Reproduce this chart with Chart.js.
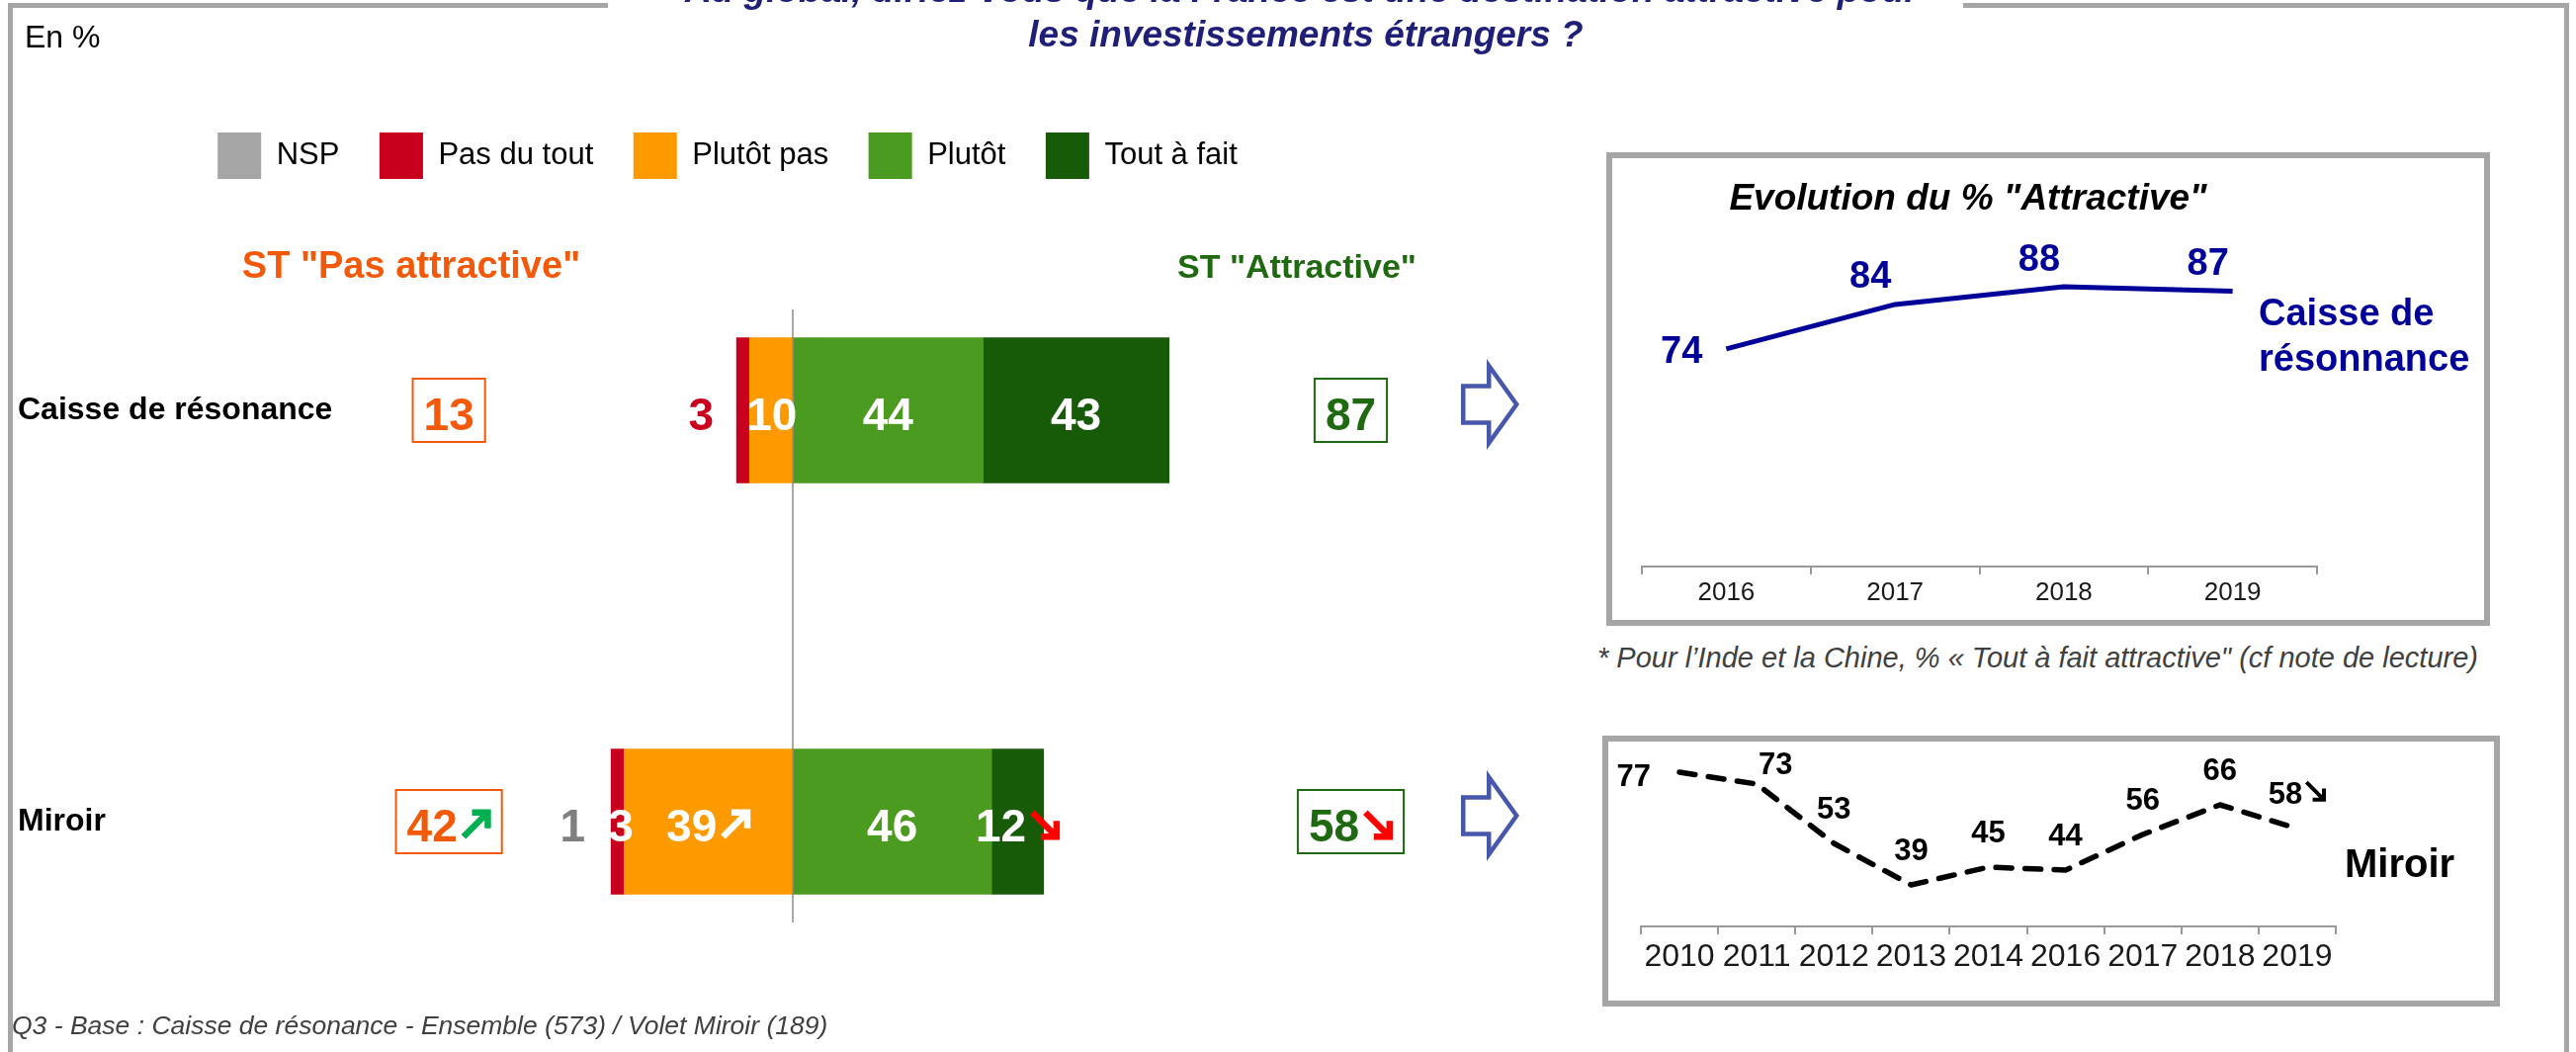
<!DOCTYPE html>
<html lang="fr">
<head>
<meta charset="utf-8">
<title>La France, destination attractive pour les investissements étrangers</title>
<script src="https://cdn.jsdelivr.net/npm/chart.js@4.4.1/dist/chart.umd.min.js"></script>
<style>
  html, body { margin: 0; padding: 0; background: #fff; }
  #page { position: relative; width: 2606px; height: 1064px; overflow: hidden;
          font-family: "Liberation Sans", Arial, sans-serif; color: #000; background: #fff; }
  #page canvas { position: absolute; }
  .abs { position: absolute; white-space: nowrap; }
  .mid { transform: translateX(-50%); }
  .rule { position: absolute; background: #a6a6a6; }
  .frame { position: absolute; box-sizing: border-box; border: 6px solid #a6a6a6; }
  .title { font-size: 37px; line-height: 37px; font-weight: bold; font-style: italic; color: #1f1f78; }
  .head { font-weight: bold; }
  .note { font-style: italic; color: #404040; }
</style>
</head>
<body>
<div id="page">
  <canvas id="bars" width="1560" height="1064" style="left:0;top:0;width:1560px;height:1064px"></canvas>

  <div class="frame" style="left:1625px;top:154px;width:894px;height:479px"></div>
  <canvas id="cr" width="874" height="458" style="left:1636px;top:165px;width:874px;height:458px"></canvas>

  <div class="frame" style="left:1621px;top:744px;width:908px;height:274px"></div>
  <canvas id="mi" width="890" height="262" style="left:1630px;top:750px;width:890px;height:262px"></canvas>

  <!-- slide frame -->
  <div class="rule" style="left:8px;top:3px;width:607px;height:5px"></div>
  <div class="rule" style="left:1986px;top:3px;width:613px;height:5px"></div>
  <div class="rule" style="left:8px;top:3px;width:5px;height:1061px"></div>
  <div class="rule" style="left:2594px;top:3px;width:5px;height:1061px"></div>

  <!-- texts -->
  <div class="abs mid title" style="left:1317px;top:-29px">Au global, diriez-vous que la France est une destination attractive pour</div>
  <div class="abs mid title" style="left:1321px;top:16px">les investissements étrangers ?</div>
  <div class="abs" style="left:25px;top:21px;font-size:32px;line-height:32px">En %</div>

  <div class="abs mid head" style="left:416px;top:249px;font-size:38px;line-height:38px;color:#f25a0a">ST "Pas attractive"</div>
  <div class="abs mid head" style="left:1312px;top:252px;font-size:34px;line-height:34px;color:#1f6a10">ST "Attractive"</div>

  <div class="abs mid" style="left:1991px;top:181px;font-size:37px;line-height:37px;font-weight:bold;font-style:italic">Evolution du % "Attractive"</div>
  <div class="abs" style="left:2285px;top:293px;font-size:38px;line-height:46px;font-weight:bold;color:#000099">Caisse de<br>résonnance</div>
  <div class="abs note" style="left:1616px;top:651px;font-size:29px;line-height:29px">* Pour l’Inde et la Chine, % « Tout à fait attractive" (cf note de lecture)</div>

  <div class="abs" style="left:2372px;top:853px;font-size:40px;line-height:40px;font-weight:bold">Miroir</div>
  <div class="abs note" style="left:12px;top:1024px;font-size:26.5px;line-height:26.5px">Q3 - Base : Caisse de résonance - Ensemble (573) / Volet Miroir (189)</div>
</div>

<script>
/* ── Data ───────────────────────────────────────────────────── */
const rows       = ['Caisse de résonance', 'Miroir'];
const nsp        = [null, 1];
const pasDuTout  = [3, 3];
const plutotPas  = [10, 39];
const plutot     = [44, 46];
const toutAFait  = [43, 12];
const stPasAttr  = [13, 42];
const stAttr     = [87, 58];

// evolution marks ('up' / 'down' / '')
const plutotPasTrend = ['', 'up'];
const toutAFaitTrend = ['', 'down'];
const stPasTrend     = ['', 'up'];
const stAttrTrend    = ['', 'down'];

const crYears   = ['2016', '2017', '2018', '2019'];
const crValues  = [74, 84, 88, 87];

const miYears   = ['2010', '2011', '2012', '2013', '2014', '2016', '2017', '2018', '2019'];
const miValues  = [77, 73, 53, 39, 45, 44, 56, 66, 58];
const miTrend   = ['', '', '', '', '', '', '', '', 'down'];

/* ── Look ───────────────────────────────────────────────────── */
const FONT = '"Liberation Sans", Arial, sans-serif';
const COL = {
  nsp: '#a6a6a6', pdt: '#c8001e', pp: '#fd9a00', pl: '#4a9b20', taf: '#175a08',
  orange: '#f25a0a', green: '#1f6a10', up: '#00b050', down: '#ff0000',
  navy: '#000099', arrow: '#4757ab'
};

Chart.defaults.font.family = FONT;
Chart.defaults.color = '#000';

/* ── Helpers ────────────────────────────────────────────────── */
function drawTrend(ctx, dir, x, yc, s, color, lw) {
  const h = s * 0.62;
  const top = yc - s / 2, bot = yc + s / 2;
  ctx.save();
  ctx.strokeStyle = color;
  ctx.lineWidth = lw;
  ctx.lineCap = 'butt';
  ctx.lineJoin = 'miter';
  ctx.beginPath();
  if (dir === 'up') {
    ctx.moveTo(x + lw / 2, bot - lw / 2);
    ctx.lineTo(x + s - lw, top + lw);
    ctx.moveTo(x + s - h, top + lw / 2);
    ctx.lineTo(x + s - lw / 2, top + lw / 2);
    ctx.lineTo(x + s - lw / 2, top + h);
  } else {
    ctx.moveTo(x + lw / 2, top + lw / 2);
    ctx.lineTo(x + s - lw, bot - lw);
    ctx.moveTo(x + s - lw / 2, bot - h);
    ctx.lineTo(x + s - lw / 2, bot - lw / 2);
    ctx.lineTo(x + s - h, bot - lw / 2);
  }
  ctx.stroke();
  ctx.restore();
}

// value + optional evolution arrow, centred on cx
function drawLabel(ctx, text, cx, cy, color, trend, arrowColor) {
  const tw = ctx.measureText(text).width;
  const aw = trend ? 31 : 0, gap = trend ? 3 : 0;
  const x0 = cx - (tw + gap + aw) / 2;
  ctx.textAlign = 'left';
  ctx.fillStyle = color;
  ctx.fillText(text, x0, cy + 20);
  if (trend) drawTrend(ctx, trend, x0 + tw + gap, cy + 3, aw, arrowColor, 6.5);
  return tw + gap + aw;
}

function hollowArrow(ctx, x, y) {
  ctx.beginPath();
  ctx.moveTo(x, y - 18.5);
  ctx.lineTo(x + 26, y - 18.5);
  ctx.lineTo(x + 26, y - 39);
  ctx.lineTo(x + 54, y);
  ctx.lineTo(x + 26, y + 39);
  ctx.lineTo(x + 26, y + 18.5);
  ctx.lineTo(x, y + 18.5);
  ctx.closePath();
  ctx.stroke();
}

/* ── Bar chart decorations ──────────────────────────────────── */
const barDecor = {
  id: 'barDecor',
  beforeDatasetDraw(chart, args) {
    if (args.index === 0) return false;          // NSP is shown as a number only
  },
  afterDatasetsDraw(chart) {
    const { ctx, scales: { x, y } } = chart;
    const zero = x.getPixelForValue(0);
    ctx.save();

    // centre line
    ctx.strokeStyle = '#8c8c8c';
    ctx.lineWidth = 1.5;
    ctx.beginPath();
    ctx.moveTo(zero, y.getPixelForValue(0) - 102);
    ctx.lineTo(zero, y.getPixelForValue(rows.length - 1) + 102);
    ctx.stroke();

    ctx.font = 'bold 46px ' + FONT;
    ctx.textBaseline = 'alphabetic';

    rows.forEach((r, j) => {
      const cy = y.getPixelForValue(j);
      let leftEdge = zero;

      for (let i = 1; i < chart.data.datasets.length; i++) {
        const ds = chart.data.datasets[i];
        const bar = chart.getDatasetMeta(i).data[j];
        if (!bar || ds.data[j] == null) continue;
        const l = Math.min(bar.x, bar.base), rr = Math.max(bar.x, bar.base);
        leftEdge = Math.min(leftEdge, l);
        const txt = String(Math.abs(ds.data[j]));
        const tw = ctx.measureText(txt).width;
        if (ds.smallOutside && nsp[j] == null) {
          ctx.textAlign = 'right';
          ctx.fillStyle = ds.backgroundColor;
          ctx.fillText(txt, l - 23, cy + 20);
        } else {
          const tr = ds.trend ? ds.trend[j] : '';
          // keep a narrow label from spilling onto the white side
          const cx = Math.max((l + rr) / 2, l + tw / 2 - 3);
          drawLabel(ctx, txt, cx, cy, '#fff', tr, tr === 'down' ? COL.down : '#fff');
        }
      }

      // NSP
      if (nsp[j] != null) {
        ctx.textAlign = 'center';
        ctx.fillStyle = '#7f7f7f';
        ctx.fillText(String(nsp[j]), leftEdge - 39, cy + 20);
      }

      // ST boxes
      [[stPasAttr, stPasTrend, -79.5, COL.orange], [stAttr, stAttrTrend, 129, COL.green]]
        .forEach(([vals, trends, xv, col]) => {
          const cx = x.getPixelForValue(xv);
          const txt = String(vals[j]);
          const tr = trends[j];
          const w = ctx.measureText(txt).width + (tr ? 34 : 0) + 22;
          ctx.strokeStyle = col;
          ctx.lineWidth = 2;
          ctx.strokeRect(cx - w / 2, cy - 32, w, 64);
          drawLabel(ctx, txt, cx, cy, col, tr, tr === 'up' ? COL.up : COL.down);
        });

      // arrow towards the trend boxes
      ctx.strokeStyle = COL.arrow;
      ctx.lineWidth = 4.5;
      ctx.lineJoin = 'miter';
      hollowArrow(ctx, x.getPixelForValue(155), cy - 6);
    });
    ctx.restore();
  }
};

new Chart(document.getElementById('bars'), {
  type: 'bar',
  data: {
    labels: rows,
    datasets: [
      { label: 'NSP',         data: nsp,                       backgroundColor: COL.nsp, stack: 'nsp',  order: 0 },
      { label: 'Pas du tout', data: pasDuTout.map(v => -v),    backgroundColor: COL.pdt, stack: 'main', order: 2, smallOutside: true },
      { label: 'Plutôt pas',  data: plutotPas.map(v => -v),    backgroundColor: COL.pp,  stack: 'main', order: 1, trend: plutotPasTrend },
      { label: 'Plutôt',      data: plutot,                    backgroundColor: COL.pl,  stack: 'main', order: 3 },
      { label: 'Tout à fait', data: toutAFait,                 backgroundColor: COL.taf, stack: 'main', order: 4, trend: toutAFaitTrend }
    ]
  },
  options: {
    indexAxis: 'y',
    responsive: false,
    animation: false,
    datasets: { bar: { barThickness: 147, grouped: false, borderWidth: 0 } },
    layout: { padding: { left: 18, right: 106, top: 93.5, bottom: 25 } },
    plugins: {
      tooltip: { enabled: false },
      legend: {
        position: 'top',
        labels: {
          boxWidth: 44, boxHeight: 47, padding: 40.5,
          font: { size: 31 }, color: '#000',
          sort: (a, b) => a.datasetIndex - b.datasetIndex
        }
      }
    },
    scales: {
      x: {
        position: 'top', stacked: true, min: -90, max: 149,
        grid: { display: false }, border: { display: false }, ticks: { display: false },
        afterFit: s => { s.height = 16; }
      },
      y: {
        stacked: true, offset: true,
        grid: { display: false }, border: { display: false },
        ticks: { crossAlign: 'far', color: '#000', font: { size: 32, weight: 'bold' } },
        afterFit: s => { s.width = 390.18; }
      }
    }
  },
  plugins: [barDecor]
});

/* ── Line charts ────────────────────────────────────────────── */
const pointLabels = {
  id: 'pointLabels',
  afterDatasetsDraw(chart, args, o) {
    const ctx = chart.ctx;
    const pts = chart.getDatasetMeta(0).data;
    const vals = chart.data.datasets[0].data;
    const half = o.size * 0.358;
    const areaTop = chart.chartArea.top;
    ctx.save();
    ctx.font = 'bold ' + o.size + 'px ' + FONT;
    ctx.fillStyle = o.color;
    ctx.textBaseline = 'alphabetic';
    pts.forEach((p, i) => {
      const t = String(vals[i]);
      if (i === 0) {
        ctx.textAlign = 'right';
        ctx.fillText(t, p.x - o.firstGap, p.y + o.firstDy + half);
        return;
      }
      let dx = o.dx, dy = o.dy;
      // no room above: move the label to the upper right of the point
      if (p.y + dy - half < areaTop) { dx = 19; dy = -21; }
      const tr = o.trend ? o.trend[i] : '';
      const tw = ctx.measureText(t).width;
      const aw = tr ? o.size * 0.7 : 0;
      const x0 = p.x + dx - (tw + aw + (tr ? 2 : 0)) / 2;
      ctx.textAlign = 'left';
      ctx.fillText(t, x0, p.y + dy + half);
      if (tr) drawTrend(ctx, tr, x0 + tw + 2, p.y + dy - 2, aw, o.color, 4);
    });
    ctx.restore();
  }
};

function lineChart(id, labels, values, cfg) {
  return new Chart(document.getElementById(id), {
    type: 'line',
    data: {
      labels,
      datasets: [{
        data: values,
        borderColor: cfg.color,
        borderWidth: cfg.width,
        borderDash: cfg.dash || [],
        borderCapStyle: cfg.dash ? 'round' : 'butt',
        borderJoinStyle: 'round',
        pointRadius: 0,
        tension: 0,
        fill: false
      }]
    },
    options: {
      responsive: false,
      animation: false,
      layout: { padding: cfg.padding },
      plugins: { legend: { display: false }, tooltip: { enabled: false }, pointLabels: cfg.labels },
      scales: {
        x: {
          offset: true,
          grid: { offset: true, drawOnChartArea: false, drawTicks: true, tickLength: 8, color: '#999', lineWidth: 2 },
          border: { display: true, color: '#999', width: 2 },
          ticks: { font: { size: cfg.tickSize }, color: '#1a1a1a', padding: cfg.tickPad,
                   maxRotation: 0, minRotation: 0, autoSkip: false },
          afterFit: s => { s.height = cfg.axisHeight; }
        },
        y: { display: false, min: 25, max: cfg.yMax }
      }
    },
    plugins: [pointLabels]
  });
}

lineChart('cr', crYears, crValues, {
  color: COL.navy, width: 5, yMax: 100,
  padding: { left: 25, right: 166, top: 71, bottom: 0 },
  axisHeight: 50, tickSize: 26, tickPad: 3,
  labels: { size: 38, color: COL.navy, firstGap: 24, firstDy: 1, dx: -25, dy: -30 }
});

lineChart('mi', miYears, miValues, {
  color: '#000', width: 5.5, dash: [16, 13.5], yMax: 85,
  padding: { left: 30, right: 157, top: 7, bottom: 0 },
  axisHeight: 75, tickSize: 32, tickPad: 4,
  labels: { size: 31, color: '#000', firstGap: 29, firstDy: 3, dx: 0, dy: -36, trend: miTrend }
});
</script>
</body>
</html>
